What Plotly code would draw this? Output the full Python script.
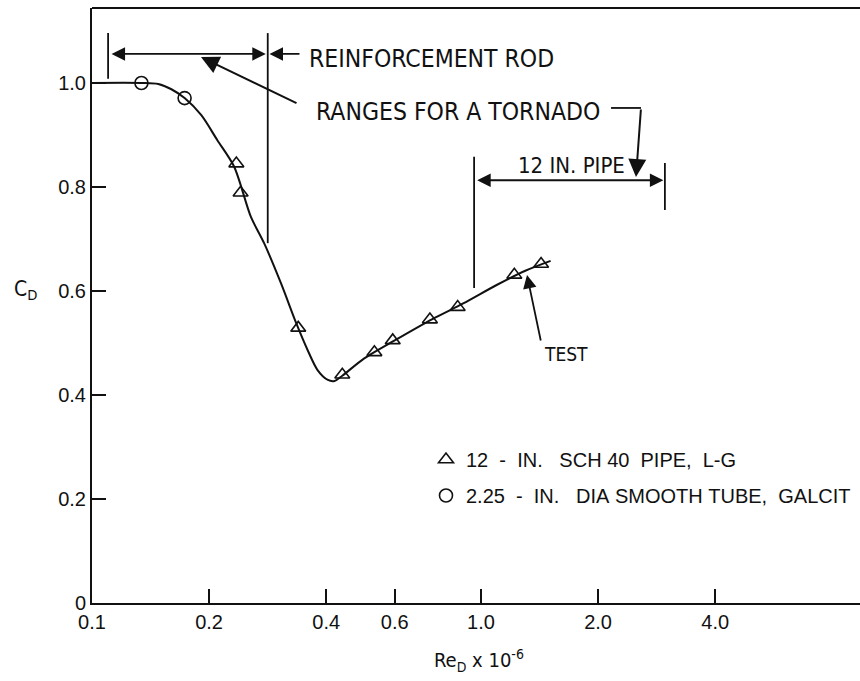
import math
import plotly.graph_objects as go

# Drag coefficient of a circular cylinder versus Reynolds number (Re_D x 10^-6)

# 12-in. SCH 40 pipe, L-G
pipe_re = [0.235, 0.241, 0.339, 0.440, 0.532, 0.593, 0.739, 0.871, 1.218, 1.427]
pipe_cd = [0.845, 0.789, 0.529, 0.439, 0.482, 0.505, 0.545, 0.569, 0.631, 0.652]

# 2.25-in. dia smooth tube, GALCIT
tube_re = [0.134, 0.173]
tube_cd = [1.000, 0.971]

# Faired curve through the test data
curve_re = [0.100, 0.134, 0.148, 0.160, 0.173, 0.191, 0.210, 0.232, 0.256, 0.277,
            0.306, 0.335, 0.358, 0.380, 0.404, 0.420, 0.440, 0.500, 0.600, 0.750,
            0.900, 1.100, 1.300, 1.510]
curve_cd = [1.000, 1.000, 0.998, 0.988, 0.971, 0.938, 0.890, 0.839, 0.743, 0.692,
            0.615, 0.538, 0.487, 0.448, 0.429, 0.427, 0.437, 0.470, 0.505, 0.546,
            0.576, 0.612, 0.639, 0.658]

# Reynolds-number ranges for a tornado
rod_range = [0.110, 0.283]
pipe_range = [0.960, 2.970]

x_ticks = [0.1, 0.2, 0.4, 0.6, 1.0, 2.0, 4.0]
x_tick_text = ["0.1", "0.2", "0.4", "0.6", "1.0", "2.0", "4.0"]
y_ticks = [0, 0.2, 0.4, 0.6, 0.8, 1.0]
y_tick_text = ["0", "0.2", "0.4", "0.6", "0.8", "1.0"]

NB = "\u00a0"
pipe_name = f"12{NB*2}-{NB*2}IN.{NB*3}SCH{NB}40{NB*2}PIPE,{NB*2}L-G"
tube_name = f"2.25{NB*2}-{NB*2}IN.{NB*3}DIA{NB}SMOOTH{NB}TUBE,{NB*2}GALCIT"

W, H = 860, 681
ML, MR, MT, MB = 92, 0, 8, 78
PW, PH = W - ML - MR, H - MT - MB

NARROW = "Liberation Sans Narrow, Arial Narrow, DejaVu Sans Condensed, sans-serif"
SANS = "Liberation Sans, Arial, sans-serif"
INK = "#111111"


def px(x):
    return (x - ML) / PW


def py(y):
    return (H - MB - y) / PH


lg = math.log10

fig = go.Figure()

# faired curve
fig.add_trace(go.Scatter(
    x=curve_re, y=curve_cd, mode="lines",
    line=dict(color=INK, width=2, shape="spline", smoothing=0.8),
    showlegend=False, hoverinfo="skip"))

fig.add_trace(go.Scatter(
    x=pipe_re, y=pipe_cd, mode="markers", legendgroup="a", name=pipe_name,
    marker=dict(symbol="triangle-up-open", size=13, color=INK,
                line=dict(width=1.6, color=INK))))

fig.add_trace(go.Scatter(
    x=tube_re, y=tube_cd, mode="markers", legendgroup="b", name=tube_name,
    marker=dict(symbol="circle-open", size=13, color=INK,
                line=dict(width=1.6, color=INK))))


# range bars
def vbar(xv, y0, y1):
    fig.add_trace(go.Scatter(x=[xv, xv], y=[y0, y1], mode="lines",
                             line=dict(color=INK, width=1.8),
                             showlegend=False, hoverinfo="skip"))


vbar(rod_range[0], 1.008, 1.096)
vbar(rod_range[1], 0.692, 1.096)
vbar(pipe_range[0], 0.606, 0.858)
vbar(pipe_range[1], 0.756, 0.846)

# leader from the tornado label
fig.add_trace(go.Scatter(x=[2.159, 2.578], y=[0.952, 0.952], mode="lines",
                         line=dict(color=INK, width=1.8),
                         showlegend=False, hoverinfo="skip"))

arrow_common = dict(text="", showarrow=True, xref="x", yref="y",
                    axref="x", ayref="y", arrowcolor=INK, standoff=0,
                    startstandoff=0)

annotations = [
    # reinforcement-rod range
    dict(x=lg(rod_range[1]) - 0.005, y=1.056, ax=lg(rod_range[0]) + 0.005, ay=1.056,
         arrowhead=2, startarrowhead=2, arrowside="end+start",
         arrowsize=1.5, startarrowsize=1.5, arrowwidth=1.8, **arrow_common),
    dict(x=lg(0.286), y=1.056, ax=lg(0.3445), ay=1.056,
         arrowhead=2, arrowsize=1.5, arrowwidth=1.8, **arrow_common),
    # pointer from the tornado label
    dict(x=lg(0.1906), y=1.050, ax=lg(0.3385), ay=0.960,
         arrowhead=2, arrowsize=1.8, arrowwidth=2, **arrow_common),
    dict(x=lg(2.503), y=0.819, ax=lg(2.578), ay=0.952,
         arrowhead=2, arrowsize=1.8, arrowwidth=2, **arrow_common),
    # 12 in. pipe range
    dict(x=lg(pipe_range[1]) - 0.004, y=0.813, ax=lg(pipe_range[0]) + 0.004, ay=0.813,
         arrowhead=2, startarrowhead=2, arrowside="end+start",
         arrowsize=1.5, startarrowsize=1.5, arrowwidth=1.8, **arrow_common),
    # test curve pointer
    dict(x=lg(1.313), y=0.631, ax=lg(1.427), ay=0.502,
         arrowhead=2, arrowsize=1.5, arrowwidth=1.8, **arrow_common),
]


def label(text, x, y, size, family=NARROW, xanchor="left"):
    annotations.append(dict(text=text, x=px(x), y=py(y), xref="paper", yref="paper",
                            xanchor=xanchor, yanchor="middle", showarrow=False,
                            font=dict(family=family, size=size, color=INK)))


label("REINFORCEMENT ROD", 307, 58, 24.5)
label("RANGES FOR A TORNADO", 314, 111, 24.5)
label("12 IN. PIPE", 516, 166, 22)
label("TEST", 542, 354, 19)
label("C<sub>D</sub>", 12, 290, 21)
label("Re<sub>D</sub> x 10<sup>-6</sup>", 479, 660, 20, xanchor="center")

fig.update_layout(
    width=W, height=H,
    margin=dict(l=ML, r=MR, t=MT, b=MB),
    paper_bgcolor="white", plot_bgcolor="white",
    font=dict(family=SANS, size=19, color=INK),
    annotations=annotations,
    shapes=[dict(type="line", xref="paper", yref="paper", x0=0, x1=1, y0=1, y1=1,
                 line=dict(color=INK, width=2))],
    legend=dict(x=px(426), y=py(440), xanchor="left", yanchor="top",
                bgcolor="rgba(0,0,0,0)", font=dict(family=SANS, size=20, color=INK),
                tracegroupgap=7, traceorder="grouped", itemwidth=30),
    showlegend=True,
)

fig.update_xaxes(type="log", range=[-1, -1 + PW / 389.0],
                 tickvals=x_ticks, ticktext=x_tick_text,
                 ticks="inside", ticklen=14, tickwidth=1.8, tickcolor=INK,
                 showline=True, linecolor=INK, linewidth=2,
                 showgrid=False, zeroline=False,
                 tickfont=dict(family=SANS, size=20, color=INK))
fig.update_yaxes(range=[0, PH / 520.0],
                 tickvals=y_ticks, ticktext=y_tick_text,
                 ticks="inside", ticklen=14, tickwidth=1.8, tickcolor=INK,
                 showline=True, linecolor=INK, linewidth=2,
                 showgrid=False, zeroline=False,
                 tickfont=dict(family=SANS, size=20, color=INK))

fig.write_html("out.html")
